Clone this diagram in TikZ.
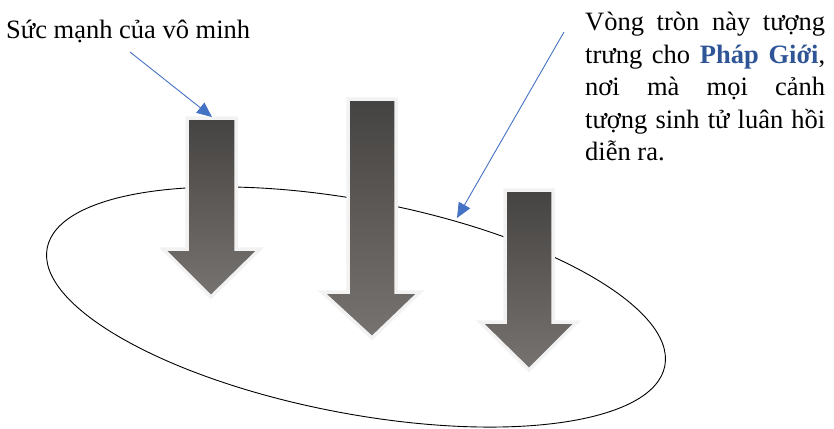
\documentclass[tikz,border=0pt]{standalone}
\usepackage{fontspec}
\setmainfont{Liberation Serif}
\usetikzlibrary{arrows.meta}
\definecolor{ArTop}{HTML}{454341}
\definecolor{ArBot}{HTML}{777371}
\definecolor{ArEdge}{HTML}{F2F2F2}
\definecolor{LineBlue}{HTML}{4472C4}
\definecolor{TextBlue}{HTML}{2F5597}
\tikzset{
  blockarrow/.style={top color=ArTop, bottom color=ArBot, draw=ArEdge, line width=3.5pt, line join=miter},
  pointer/.style={draw=LineBlue, line width=0.9pt, -{Triangle[length=15pt,width=13pt]}},
  ring/.style={draw=black, line width=0.9pt},
  lbl/.style={font=\fontsize{26.5}{32.5}\selectfont, inner sep=0pt}
}
\begin{document}
\begin{tikzpicture}[x=1pt,y=-1pt]
\useasboundingbox (0,0) rectangle (834,428);
% ring
\draw[ring, rotate around={-10.8:(356,307)}] (356,307) ellipse [x radius=314.4pt, y radius=106.5pt];
% block arrows
\shadedraw[blockarrow] (187,118) -- (236,118) -- (236,249) -- (260,249) -- (211,297) -- (163,249) -- (187,249) -- cycle;
\shadedraw[blockarrow] (348,99) -- (396,99) -- (396,292) -- (420,292) -- (372,338) -- (322,292) -- (348,292) -- cycle;
\shadedraw[blockarrow] (505,190) -- (553,190) -- (553,322) -- (577,322) -- (529,370) -- (480,322) -- (505,322) -- cycle;
% texts
\node[lbl, anchor=base west] (t1) at (6,38) {Sức mạnh của vô minh};
\node[lbl, anchor=north west, text width=240pt, align=justify] (t2) at (585,12)
 {Vòng tròn này tượng\linebreak trưng cho \textbf{\textcolor{TextBlue}{Pháp Giới}},\linebreak nơi mà mọi cảnh\linebreak tượng sinh tử luân hồi\linebreak diễn ra.};
% connectors
\coordinate (p1s) at (130,52);
\coordinate (p1e) at (212,117);
\coordinate (p2s) at (564,32);
\coordinate (p2e) at (457,218);
\draw[pointer] (p1s) -- (p1e);
\draw[pointer] (p2s) -- (p2e);
\end{tikzpicture}
\end{document}
